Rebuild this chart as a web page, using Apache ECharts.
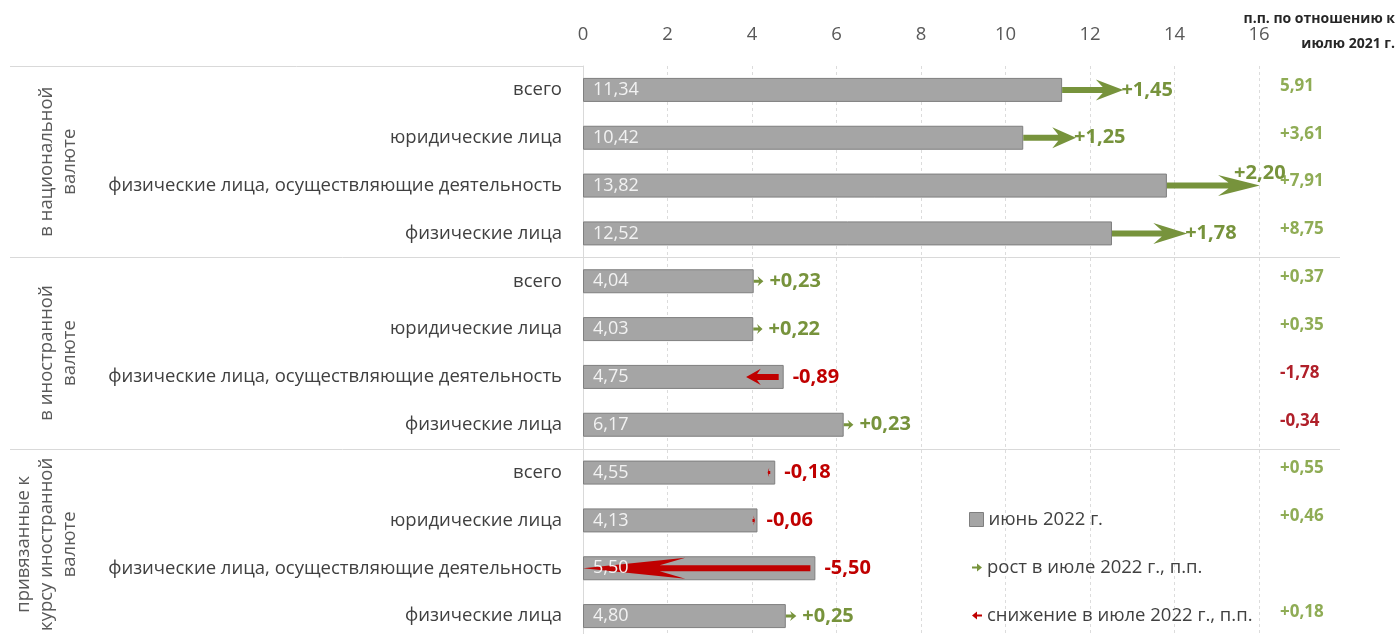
<!DOCTYPE html>
<html><head><meta charset="utf-8">
<script src="https://cdn.jsdelivr.net/npm/echarts@6/dist/echarts.min.js"></script>
<style>html,body{margin:0;padding:0;background:#fff}#c{width:1398px;height:634px}</style>
</head><body><div id="c"></div>
<script>
// ---- data ----
const categories = [
  'всего','юридические лица','физические лица, осуществляющие деятельность','физические лица',
  'всего','юридические лица','физические лица, осуществляющие деятельность','физические лица',
  'всего','юридические лица','физические лица, осуществляющие деятельность','физические лица'
];
const groupNames = ['в национальной\nвалюте', 'в иностранной\nвалюте', 'привязанные к\nкурсу иностранной\nвалюте'];
const groupStarts = [0, 4, 8];
const groupSizes = [4, 4, 4];
const june2022 = [11.34, 10.42, 13.82, 12.52, 4.04, 4.03, 4.75, 6.17, 4.55, 4.13, 5.50, 4.80];
const julyChange = [1.45, 1.25, 2.20, 1.78, 0.23, 0.22, -0.89, 0.23, -0.18, -0.06, -5.50, 0.25];
const vsJuly2021 = ['5,91', '+3,61', '+7,91', '+8,75', '+0,37', '+0,35', '-1,78', '-0,34', '+0,55', '+0,46', '', '+0,18'];
const xMin = 0, xMax = 16, xStep = 2;
const headerLines = ['п.п. по отношению к', 'июлю 2021 г.'];
const seriesNames = ['июнь 2022 г.', 'рост в июле 2022 г., п.п.', 'снижение в июле 2022 г., п.п.'];

// ---- style ----
const FONT = 'Open Sans';
const GREEN = '#77933c', RED = '#c00000';
const GREEN_LIGHT = '#8fac55', RED_DARK = '#b0202a';
const fmt = v => (v > 0 ? '+' : '-') + Math.abs(v).toFixed(2).replace('.', ',');

const chart = echarts.init(document.getElementById('c'), null, {renderer: 'canvas'});

function arrowItem(color) {
  return function (params, api) {
    const s = api.value(0), cat = api.value(1), e = api.value(2), ch = api.value(3);
    const p0 = api.coord([s, cat]), p1 = api.coord([e, cat]);
    const y = p0[1], x0 = p0[0] + (ch < 0 ? -5 : 0), x1 = p1[0];
    const dir = x1 >= x0 ? 1 : -1;
    const L = Math.abs(x1 - x0);
    const hl = L < 20 ? L * 0.6 : L * 0.45;
    const hh = Math.min(21, Math.max(10, L * 0.5));
    const sh = Math.min(6, Math.max(3, L * 0.25));
    const notch = hl * 0.25;
    const bx = x1 - dir * hl, nx = x1 - dir * (hl - notch);
    const pts = [[x0, y - sh / 2], [nx, y - sh / 2], [bx, y - hh / 2], [x1, y], [bx, y + hh / 2], [nx, y + sh / 2], [x0, y + sh / 2]];
    let tx, ty = y, align = 'left';
    if (ch > 0) {
      if (e > xMax - 0.3) { tx = x1; ty = y - 12; align = 'center'; }
      else tx = x1 + (L < 20 ? 6 : -2);
    } else {
      tx = p0[0] + 9;
    }
    return {
      type: 'group',
      children: [
        {type: 'polygon', z2: 5, shape: {points: pts}, style: {fill: color}},
        {type: 'text', x: tx, y: ty, z2: 20, style: {text: fmt(ch), fill: color, font: 'bold 20px "' + FONT + '"', align: align, verticalAlign: 'middle'}}
      ]
    };
  };
}

const growthData = [], declineData = [];
june2022.forEach((v, i) => {
  const item = [v, i, v + julyChange[i], julyChange[i]];
  (julyChange[i] >= 0 ? growthData : declineData).push(item);
});

const legendText = {color: '#404040', fontSize: 18.5, fontFamily: FONT};

const option = {
  animation: false,
  backgroundColor: '#fff',
  grid: {left: 583, right: 139, top: 66, height: 574, containLabel: false, outerBoundsMode: 'none'},
  xAxis: {
    type: 'value', position: 'top', min: xMin, max: xMax, interval: xStep,
    axisLine: {show: false}, axisTick: {show: false},
    axisLabel: {color: '#595959', fontSize: 18.5, fontFamily: FONT, margin: 22},
    splitLine: {lineStyle: {color: '#dcdcdc', type: [3, 3], width: 1}}
  },
  yAxis: {
    type: 'category', data: categories, inverse: true,
    axisLine: {show: true, lineStyle: {color: '#d9d9d9'}}, axisTick: {show: false},
    axisLabel: {color: '#404040', fontSize: 18.5, fontFamily: FONT, margin: 21}
  },
  legend: [
    {data: [{name: seriesNames[0], icon: 'rect', itemStyle: {color: '#a5a5a5', borderColor: '#7f7f7f', borderWidth: 1}}],
     left: 969, top: 510, padding: 0, itemWidth: 14, itemHeight: 14, selectedMode: false, textStyle: legendText},
    {data: [{name: seriesNames[1], icon: 'path://M0,3L5,3L5,0L10,4L5,8L5,5L0,5Z', itemStyle: {color: GREEN}}],
     left: 972, top: 558, padding: 0, itemWidth: 10, itemHeight: 8, selectedMode: false, textStyle: legendText},
    {data: [{name: seriesNames[2], icon: 'path://M10,3L5,3L5,0L0,4L5,8L5,5L10,5Z', itemStyle: {color: RED}}],
     left: 972, top: 606, padding: 0, itemWidth: 10, itemHeight: 8, selectedMode: false, textStyle: legendText}
  ],
  graphic: [
    {type: 'text', right: 3, top: 12, style: {text: headerLines[0], fill: '#262626', font: 'bold 14px "' + FONT + '"'}},
    {type: 'text', right: 3, top: 37, style: {text: headerLines[1], fill: '#262626', font: 'bold 14px "' + FONT + '"'}}
  ],
  series: [
    {
      name: seriesNames[0], type: 'bar', data: june2022, barWidth: 24, z: 2,
      itemStyle: {color: '#a5a5a5', borderColor: '#7f7f7f', borderWidth: 1}
    },
    {
      name: seriesNames[1], type: 'custom', data: growthData, encode: {x: [0, 2], y: 1}, z: 4,
      itemStyle: {color: GREEN}, clip: false, renderItem: arrowItem(GREEN)
    },
    {
      name: seriesNames[2], type: 'custom', data: declineData, encode: {x: [0, 2], y: 1}, z: 4,
      itemStyle: {color: RED}, clip: false, renderItem: arrowItem(RED)
    },
    {
      name: 'barLabels', type: 'bar', data: june2022, barWidth: 24, barGap: '-100%', z: 6, silent: true,
      itemStyle: {color: 'rgba(0,0,0,0)', borderWidth: 0},
      label: {show: true, position: 'insideLeft', distance: 10, color: '#f2f2f2', fontSize: 18, fontFamily: FONT,
        formatter: p => p.value.toFixed(2).replace('.', ',')}
    },
    {
      name: 'vs2021', type: 'custom', clip: false, encode: {x: 0, y: 1}, z: 4,
      data: vsJuly2021.map((t, i) => [xMax, i]),
      renderItem: function (params, api) {
        const t = vsJuly2021[params.dataIndex];
        if (!t) return {type: 'group', children: []};
        const p = api.coord([api.value(0), api.value(1)]);
        return {type: 'text', x: p[0] + 21, y: p[1] - 4, style: {text: t, fill: t[0] === '-' ? RED_DARK : GREEN_LIGHT,
          font: 'bold 17px "' + FONT + '"', align: 'left', verticalAlign: 'middle'}};
      }
    },
    {
      name: 'groups', type: 'custom', clip: false, encode: {x: 0, y: 1}, z: 1,
      data: groupStarts.map(s => [xMin, s]),
      renderItem: function (params, api) {
        const i = params.dataIndex;
        const s = groupStarts[i], n = groupSizes[i];
        const band = api.size([0, 1])[1];
        const pTop = api.coord([xMin, s]);
        const pBot = api.coord([xMin, s + n - 1]);
        const yTop = pTop[1] - band / 2, yBot = pBot[1] + band / 2;
        const xRight = s === 0 ? pTop[0] : 1340;
        return {
          type: 'group',
          children: [
            {type: 'line', shape: {x1: 10, y1: Math.round(yTop) + 0.5, x2: xRight, y2: Math.round(yTop) + 0.5}, style: {stroke: '#d9d9d9', lineWidth: 1}},
            {type: 'text', x: 81, y: (yTop + yBot) / 2, rotation: Math.PI / 2,
              style: {text: groupNames[i], fill: '#595959', font: '18.5px "' + FONT + '"', lineHeight: 23, align: 'center', verticalAlign: 'bottom'}}
          ]
        };
      }
    }
  ]
};
chart.setOption(option);
</script></body></html>
